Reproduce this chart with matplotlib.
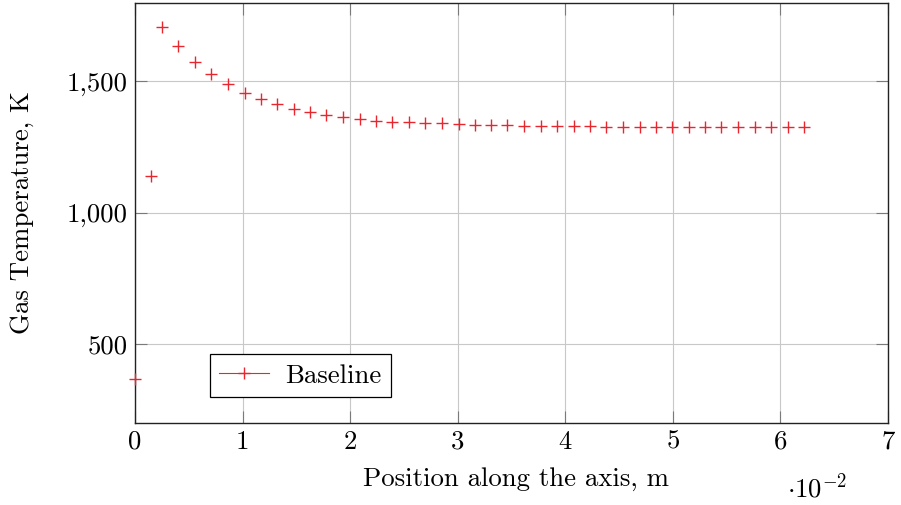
import matplotlib
matplotlib.use("Agg")
import matplotlib.pyplot as plt
from matplotlib.ticker import FixedLocator

# Data (x in units of 1e-2 m, temperature in K)
position = [0.0, 0.15, 0.25, 0.40, 0.56, 0.71, 0.86, 1.02, 1.17, 1.32, 1.48,
            1.63, 1.78, 1.93, 2.09, 2.24, 2.39, 2.55, 2.70, 2.85, 3.01, 3.16,
            3.31, 3.46, 3.62, 3.77, 3.92, 4.08, 4.23, 4.38, 4.54, 4.69, 4.84,
            4.99, 5.15, 5.30, 5.45, 5.61, 5.76, 5.91, 6.07, 6.22]
temperature = [369, 1140, 1704, 1632, 1573, 1527, 1489, 1455, 1432, 1413, 1394,
               1381, 1372, 1362, 1356, 1350, 1346, 1343, 1340, 1339, 1337, 1335,
               1334, 1332, 1331, 1330, 1329, 1328, 1328, 1327, 1327, 1327, 1327,
               1327, 1327, 1326, 1326, 1326, 1326, 1326, 1326, 1326]
x_ticks = [0, 1, 2, 3, 4, 5, 6, 7]
x_tick_labels = ["0", "1", "2", "3", "4", "5", "6", "7"]
y_ticks = [500, 1000, 1500]
y_tick_labels = ["500", "1,000", "1,500"]
series_label = "Baseline"

plt.rcParams["font.family"] = ["cmr10", "DejaVu Serif"]
plt.rcParams["mathtext.fontset"] = "cm"
plt.rcParams["axes.unicode_minus"] = False

W, H = 901, 505
fig = plt.figure(figsize=(W / 100, H / 100), dpi=100)
L, R, T, B = 135, 888, 3, 423
ax = fig.add_axes([L / W, 1 - B / H, (R - L) / W, (B - T) / H])

red = "#e8262e"
ax.plot(position, temperature, linestyle="none", marker="+", markersize=9,
        markeredgewidth=1.0, color=red, label=series_label, clip_on=False,
        zorder=5)

ax.set_xlim(0, 7)
ax.set_ylim(200, 1797)
ax.xaxis.set_major_locator(FixedLocator(x_ticks))
ax.set_xticklabels(x_tick_labels)
ax.yaxis.set_major_locator(FixedLocator(y_ticks))
ax.set_yticklabels(y_tick_labels)

fs = 19.3
ax.grid(True, color="#c8c8c8", linewidth=0.8)
ax.set_axisbelow(True)
ax.tick_params(axis="both", which="major", direction="in", length=8.5,
               width=0.8, color="#7a7a7a", labelsize=fs, pad=5,
               top=True, right=True)
for s in ax.spines.values():
    s.set_color("#222222")
    s.set_linewidth(1.0)

fig.text(22 / W, 1 - 213 / H, "Gas Temperature, K", rotation=90,
         ha="center", va="center", fontsize=fs)
fig.text(516 / W, 1 - 479 / H, "Position along the axis, m",
         ha="center", va="center", fontsize=fs)
fig.text(817 / W, 1 - 497 / H, r"$\cdot 10^{-2}$", ha="center",
         va="baseline", fontsize=fs)

leg = ax.legend(loc="lower left",
                bbox_to_anchor=((210 - L) / (R - L), (B - 397) / (B - T)),
                borderaxespad=0, fontsize=fs, frameon=True, fancybox=False,
                handlelength=1.85, handletextpad=0.6, borderpad=0.35)
leg.get_frame().set_edgecolor("black")
leg.get_frame().set_linewidth(0.9)
leg.get_frame().set_alpha(1)
for h in leg.legend_handles:
    h.set_linestyle("-")
    h.set_linewidth(0.8)

fig.savefig("out.png", dpi=100)
